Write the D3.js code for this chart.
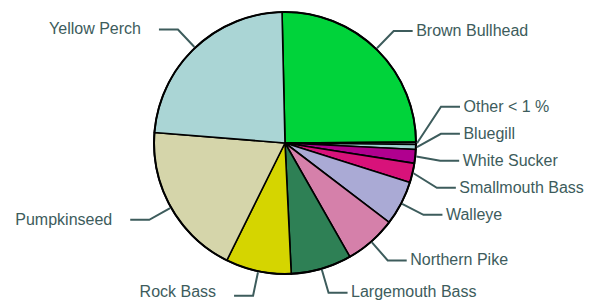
<!DOCTYPE html>
<html>
<head>
<meta charset="utf-8">
<script src="https://cdn.jsdelivr.net/npm/d3@7"></script>
<style>
  html, body { margin: 0; padding: 0; background: #fff; }
  svg { display: block; }
</style>
</head>
<body>
<svg id="chart" width="594" height="301"></svg>
<script>
const categories = ["Brown Bullhead", "Other < 1 %", "Bluegill", "White Sucker", "Smallmouth Bass",
  "Walleye", "Northern Pike", "Largemouth Bass", "Rock Bass", "Pumpkinseed", "Yellow Perch"];
const values = [25.3, 0.3, 0.6, 1.7, 2.4, 5.5, 6.4, 7.5, 8.1, 19.0, 23.4];
const colors = ["#00d33a", "#b8d8d8", "#9fd0d0", "#b0008f", "#d8127a",
  "#aaaad5", "#d580aa", "#2e8055", "#d5d500", "#d5d5aa", "#aad5d5"];

const W = 594, H = 301;
const cx = 285, cy = 143, R = 131;
const rElbow = 156, hLen = 19, spacing = 27;
const startOffset = -0.0227;
const labelColor = "#3d5c5c";

const svg = d3.select("#chart");
const g = svg.append("g").attr("transform", `translate(${cx},${cy})`);

const data = categories.map((c, i) => ({ name: c, value: values[i], color: colors[i] }));
const pie = d3.pie().sort(null).value(d => d.value)
  .startAngle(startOffset).endAngle(2 * Math.PI + startOffset);
const arcs = pie(data);
const arc = d3.arc().innerRadius(0).outerRadius(R);

g.selectAll("path.slice").data(arcs).join("path")
  .attr("class", "slice")
  .attr("d", arc)
  .attr("fill", d => d.data.color)
  .attr("stroke", "#000")
  .attr("stroke-width", 1.6)
  .attr("stroke-linejoin", "round");

g.append("circle").attr("r", R).attr("fill", "none").attr("stroke", "#000").attr("stroke-width", 2);

// label layout
const labels = arcs.map(d => {
  const a = (d.startAngle + d.endAngle) / 2;
  return {
    name: d.data.name, a,
    side: Math.sin(a) >= 0 ? 1 : -1,
    sx: (R + 1) * Math.sin(a), sy: -(R + 1) * Math.cos(a),
    ex: rElbow * Math.sin(a), ny: -rElbow * Math.cos(a)
  };
});

function distribute(items) {
  items.sort((p, q) => p.ny - q.ny);
  let clusters = items.map(it => ({ items: [it], center: it.ny }));
  let changed = true;
  while (changed) {
    changed = false;
    for (let i = 0; i < clusters.length - 1; i++) {
      const c1 = clusters[i], c2 = clusters[i + 1];
      const bottom1 = c1.center + (c1.items.length - 1) * spacing / 2;
      const top2 = c2.center - (c2.items.length - 1) * spacing / 2;
      if (top2 - bottom1 < spacing) {
        const its = c1.items.concat(c2.items);
        const center = d3.mean(its, it => it.sy) - 4;
        clusters.splice(i, 2, { items: its, center });
        changed = true;
        break;
      }
    }
  }
  clusters.forEach(c => {
    const n = c.items.length;
    c.items.forEach((it, k) => { it.y = c.center + (k - (n - 1) / 2) * spacing; });
  });
}
distribute(labels.filter(l => l.side > 0));
distribute(labels.filter(l => l.side < 0));

const maxTextY = H - cy - 9;

const lg = g.append("g");
lg.selectAll("polyline").data(labels).join("polyline")
  .attr("points", d => [[d.sx, d.sy], [d.ex, d.y], [d.ex + d.side * hLen, d.y]].map(p => p.join(",")).join(" "))
  .attr("fill", "none")
  .attr("stroke", labelColor)
  .attr("stroke-width", 2);

lg.selectAll("text").data(labels).join("text")
  .attr("x", d => d.side > 0 ? d.ex + hLen + 3.5 : d.ex - hLen - 18)
  .attr("y", d => Math.min(d.y, maxTextY))
  .attr("dy", "0.3em")
  .attr("text-anchor", d => d.side > 0 ? "start" : "end")
  .attr("font-family", "'Liberation Sans', Arial, sans-serif")
  .attr("font-size", 16)
  .attr("fill", labelColor)
  .text(d => d.name);
</script>
</body>
</html>
